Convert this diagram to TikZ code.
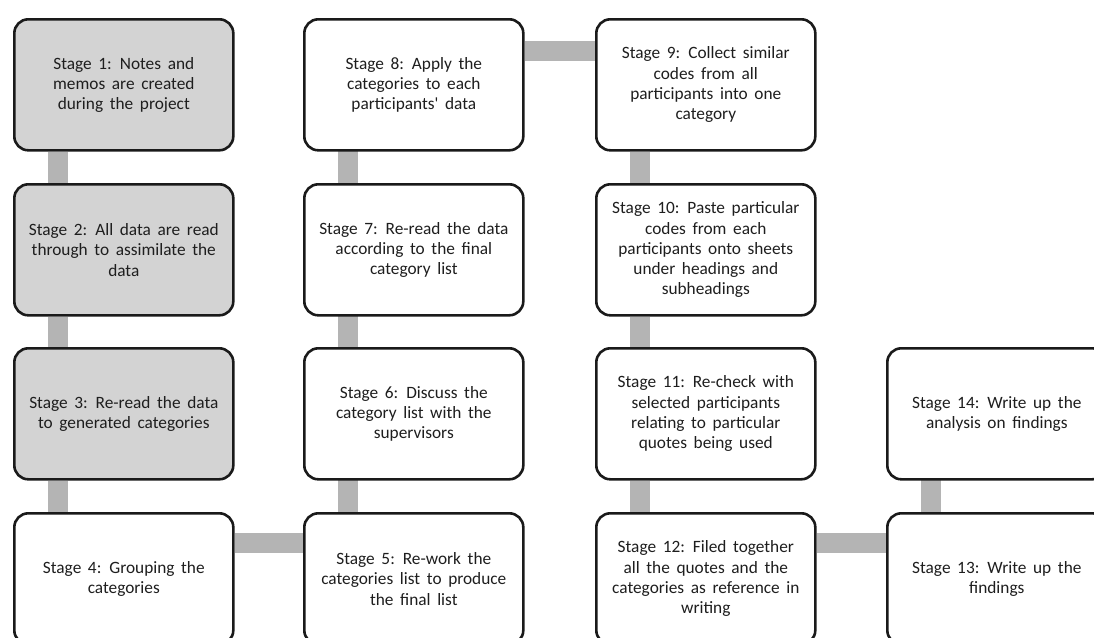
\documentclass[tikz,border=0pt]{standalone}
\usepackage{fontspec}
\setmainfont{Carlito}[WordSpace=1.7]
\usetikzlibrary{backgrounds}
\definecolor{boxgray}{RGB}{211,211,211}
\definecolor{linkgray}{RGB}{180,180,180}
\definecolor{edge}{RGB}{26,26,26}
\definecolor{ink}{RGB}{30,30,30}
\tikzset{
  stagebox/.style={draw=edge, line width=2.6pt, rounded corners=14pt,
    minimum width=219pt, minimum height=131pt, anchor=north west,
    align=center, text=ink, inner sep=0pt,
    font=\fontsize{17.3}{20.3}\selectfont},
  shaded/.style={stagebox, fill=boxgray},
  plain/.style={stagebox, fill=white},
  link/.style={draw=linkgray, line width=20pt, line cap=butt}
}
\begin{document}
\begin{tikzpicture}[x=1pt,y=-1pt]
\useasboundingbox (0,0) rectangle (1094,637);
% column 1
\node[shaded] (s1) at (13,18)  {Stage 1: Notes and\\memos are created\\during the project};
\node[shaded] (s2) at (13,183) {Stage 2: All data are read\\through to assimilate the\\data};
\node[shaded] (s3) at (13,347) {Stage 3: Re-read the data\\to generated categories};
\node[plain]  (s4) at (13,512) {Stage 4: Grouping the\\categories};
% column 2
\node[plain] (s8) at (303,18)  {Stage 8: Apply the\\categories to each\\participants\textquotesingle{} data};
\node[plain] (s7) at (303,183) {Stage 7: Re-read the data\\according to the final\\category list};
\node[plain] (s6) at (303,347) {Stage 6: Discuss the\\category list with the\\supervisors};
\node[plain] (s5) at (303,512) {Stage 5: Re-work the\\categories list to produce\\the final list};
% column 3
\node[plain] (s9)  at (595,18)  {Stage 9: Collect similar\\codes from all\\participants into one\\category};
\node[plain] (s10) at (595,183) {Stage 10: Paste particular\\codes from each\\participants onto sheets\\under headings and\\subheadings};
\node[plain] (s11) at (595,347) {Stage 11: Re-check with\\selected participants\\relating to particular\\quotes being used};
\node[plain] (s12) at (595,512) {Stage 12: Filed together\\all the quotes and the\\categories as reference in\\writing};
% column 4
\node[plain] (s14) at (886,347) {Stage 14: Write up the\\analysis on findings};
\node[plain] (s13) at (886,512) {Stage 13: Write up the\\findings};
% grey links behind the boxes
\begin{scope}[on background layer]
  \foreach \a/\b in {s1/s2, s2/s3, s3/s4, s5/s6, s6/s7, s7/s8, s9/s10, s10/s11, s11/s12, s13/s14}{
    \draw[link] ([xshift=44.5pt]\a.south west) -- ([xshift=44.5pt]\b.north west);
  }
  \draw[link] ([yshift=-31pt]s4.north east) -- ([yshift=-31pt]s5.north west);
  \draw[link] ([yshift=-33pt]s8.north east) -- ([yshift=-33pt]s9.north west);
  \draw[link] ([yshift=-31pt]s12.north east) -- ([yshift=-31pt]s13.north west);
\end{scope}
\end{tikzpicture}
\end{document}
